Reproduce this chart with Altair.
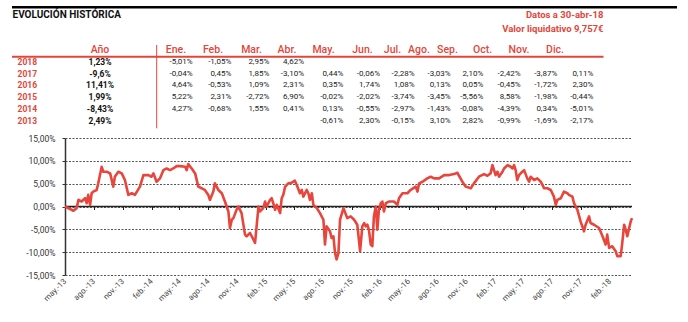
import altair as alt
import pandas as pd

# ---------------- data ----------------
DATES = [
    "2013-05-18", "2013-06-08", "2013-06-14", "2013-06-24", "2013-06-30", "2013-07-10", "2013-07-21",
    "2013-07-26", "2013-07-31", "2013-08-06", "2013-08-11", "2013-08-16", "2013-08-27", "2013-09-01",
    "2013-09-12", "2013-09-17", "2013-09-28", "2013-10-09", "2013-10-19", "2013-10-24", "2013-11-04",
    "2013-11-15", "2013-11-25", "2013-12-06", "2013-12-17", "2013-12-27",
    "2014-01-12", "2014-01-23", "2014-02-08", "2014-02-18", "2014-02-24", "2014-03-06", "2014-03-17",
    "2014-03-28", "2014-04-07", "2014-04-18", "2014-04-28", "2014-05-09", "2014-05-20", "2014-06-05",
    "2014-06-10", "2014-06-15", "2014-06-26", "2014-07-07", "2014-07-17", "2014-07-28", "2014-08-07",
    "2014-08-18", "2014-08-23", "2014-09-03", "2014-09-08", "2014-09-19", "2014-09-30", "2014-10-10",
    "2014-10-21", "2014-10-26", "2014-11-01", "2014-11-06", "2014-11-16", "2014-11-22", "2014-12-02",
    "2014-12-13", "2014-12-18", "2014-12-29",
    "2015-01-09", "2015-01-14", "2015-01-19", "2015-01-25", "2015-01-30", "2015-02-09", "2015-02-15",
    "2015-02-20", "2015-03-03", "2015-03-08", "2015-03-13", "2015-03-19", "2015-03-24", "2015-04-04",
    "2015-04-09", "2015-04-14", "2015-04-20", "2015-04-30", "2015-05-11", "2015-05-21", "2015-05-27",
    "2015-06-06", "2015-06-12", "2015-06-17", "2015-06-28", "2015-07-03", "2015-07-08", "2015-07-14",
    "2015-07-19", "2015-07-30", "2015-08-09", "2015-08-20", "2015-08-25", "2015-08-30", "2015-09-10",
    "2015-09-15", "2015-09-21", "2015-09-26", "2015-10-01", "2015-10-07", "2015-10-12", "2015-10-23",
    "2015-11-04", "2015-11-15", "2015-11-26", "2015-12-06", "2015-12-15", "2015-12-22", "2015-12-28",
    "2016-01-02", "2016-01-07", "2016-01-12", "2016-01-18", "2016-01-23", "2016-01-28", "2016-02-03",
    "2016-02-08", "2016-02-13", "2016-02-19", "2016-02-24", "2016-02-29", "2016-03-06", "2016-03-16",
    "2016-04-01", "2016-04-12", "2016-04-17", "2016-04-28", "2016-05-14", "2016-05-24", "2016-06-09",
    "2016-06-15", "2016-06-20", "2016-07-01", "2016-07-16", "2016-07-27", "2016-08-07", "2016-08-23",
    "2016-09-08", "2016-09-24", "2016-10-10", "2016-10-20", "2016-11-05", "2016-11-16", "2016-12-02",
    "2016-12-12", "2016-12-28",
    "2017-01-13", "2017-01-24", "2017-02-03", "2017-02-09", "2017-02-19", "2017-02-25", "2017-03-02",
    "2017-03-13", "2017-03-18", "2017-03-29", "2017-04-08", "2017-04-14", "2017-04-19", "2017-04-24",
    "2017-04-29", "2017-05-05", "2017-05-15", "2017-05-21", "2017-05-31", "2017-06-06", "2017-06-11",
    "2017-06-22", "2017-07-02", "2017-07-13", "2017-07-24", "2017-08-03", "2017-08-14", "2017-08-24",
    "2017-08-30", "2017-09-04", "2017-09-15", "2017-09-25", "2017-10-06", "2017-10-11", "2017-10-22",
    "2017-10-27", "2017-11-07", "2017-11-17", "2017-11-28", "2017-12-03", "2017-12-14", "2017-12-19",
    "2017-12-30",
    "2018-01-15", "2018-01-26", "2018-02-05", "2018-02-10", "2018-02-16", "2018-02-26", "2018-03-09",
    "2018-03-14", "2018-03-25", "2018-03-30", "2018-04-05", "2018-04-10", "2018-04-15", "2018-04-21",
    "2018-04-26", "2018-04-30",
]
VALUES = [
    0.00, -0.72, -0.94, -0.36, 1.45, 1.09, 1.81, 0.72, 2.54, 0.36, 2.90, 3.26, 3.62, 5.07,
    8.70, 7.61, 7.61, 7.25, 4.35, 6.52, 7.61, 7.25, 5.80, 2.54, 2.90, 2.54,
    4.35, 6.88, 6.88, 6.52, 7.25, 5.43, 6.16, 7.97, 8.33, 7.97, 8.33, 8.84, 8.84, 8.70,
    7.97, 9.28, 8.33, 7.25, 4.35, 3.99, 3.62, 2.54, 1.45, 3.26, 5.07, 3.62, 2.90, 1.09,
    -1.09, -4.71, -2.90, -2.54, -0.72, 0.00, -1.45, -6.16, -6.52, -5.80,
    -7.25, -7.97, -4.35, 0.00, -1.09, -0.36, 1.09, 0.00, 1.45, 1.81, 0.72, -0.72, 0.36, -1.45,
    1.81, 2.54, 4.35, 5.07, 5.22, 5.65, 4.71, 2.90, 3.62, 2.17, 3.62, 2.90, 1.45, 2.90,
    0.36, -0.36, -1.45, -2.90, -8.33, -4.35, -5.43, -6.88, -6.52, -10.14, -11.59, -10.14, -2.90, -0.36,
    -2.54, -2.17, -2.90, -3.99, -9.78, -4.35, -3.62,
    -4.35, -3.99, -5.07, -8.33, -8.70, -2.17, 0.00, -5.07, -0.72, 0.72, 1.09, -1.09, 0.72, 1.09,
    1.09, 0.36, 1.81, 2.90, 2.90, 3.62, 4.35, 3.26, 5.07, 5.43, 6.16, 6.52, 6.16, 6.16,
    6.88, 6.88, 7.10, 7.39, 5.43, 4.35, 3.99, 5.07, 6.52,
    7.10, 6.74, 7.25, 9.06, 6.88, 7.61, 6.52, 7.61, 8.33, 9.06, 8.70, 8.33, 9.06, 7.97,
    5.80, 6.88, 7.61, 7.97, 6.16, 5.43, 6.52, 5.80, 6.16, 5.43, 3.99, 3.99, 3.62, 2.17,
    0.36, 1.45, 1.81, 3.26, 2.90, 2.54, 2.17, 0.72, -0.72, -3.26, -5.43, -3.99, -2.17, -3.62,
    -3.99,
    -4.71, -6.52, -8.33, -6.16, -9.06, -8.70, -9.78, -10.87, -10.87, -7.97, -3.99, -5.07, -6.52, -4.71,
    -3.26, -2.54,
]

TITLE = "EVOLUCIÓN HISTÓRICA"
NOTE_1 = "Datos a 30-abr-18"
NOTE_2 = "Valor liquidativo 9,757€"

YEAR_HEADER = "Año"
MONTHS = ["Ene.", "Feb.", "Mar.", "Abr.", "May.", "Jun.", "Jul.", "Ago.", "Sep.", "Oct.", "Nov.", "Dic."]
YEARS = ["2018", "2017", "2016", "2015", "2014", "2013"]
ANNUAL = ["1,23%", "-9,6%", "11,41%", "1,99%", "-8,43%", "2,49%"]
M_2018 = ["-5,01%", "-1,05%", "2,95%", "4,62%", "", "", "", "", "", "", "", ""]
M_2017 = ["-0,04%", "0,45%", "1,85%", "-3,10%", "0,44%", "-0,06%", "-2,28%", "-3,03%", "2,10%", "-2,42%", "-3,87%", "0,11%"]
M_2016 = ["4,64%", "-0,53%", "1,09%", "2,31%", "0,35%", "1,74%", "1,08%", "0,13%", "0,05%", "-0,45%", "-1,72%", "2,30%"]
M_2015 = ["5,22%", "2,31%", "-2,72%", "6,90%", "-0,02%", "-2,02%", "-3,74%", "-3,45%", "-5,56%", "8,58%", "-1,98%", "-0,44%"]
M_2014 = ["4,27%", "-0,68%", "1,55%", "0,41%", "0,13%", "-0,55%", "-2,97%", "-1,43%", "-0,08%", "-4,39%", "0,34%", "-5,01%"]
M_2013 = ["", "", "", "", "-0,61%", "2,30%", "-0,15%", "3,10%", "2,82%", "-0,99%", "-1,69%", "-2,17%"]
MONTHLY = [M_2018, M_2017, M_2016, M_2015, M_2014, M_2013]

TICK_MONTHS = [(2013, 5), (2013, 8), (2013, 11), (2014, 2), (2014, 5), (2014, 8), (2014, 11),
               (2015, 2), (2015, 5), (2015, 8), (2015, 11), (2016, 2), (2016, 5), (2016, 8),
               (2016, 11), (2017, 2), (2017, 5), (2017, 8), (2017, 11), (2018, 2)]
Y_TICKS = [-15, -10, -5, 0, 5, 10, 15]

# ---------------- layout (page pixels) ----------------
L, T = 65, 138          # plot origin
W, H = 567, 137         # plot size
HDR_X = [176, 213, 251.5, 287, 323.5, 362.5, 392.5, 419, 447.5, 482.5, 519, 555]
VAL_X = [192.7, 231.3, 269.3, 304, 343.3, 380, 414.7, 450.7, 483.3, 520.7, 557.3, 593.3]
ROW_Y = (61.7, 120.7)
RED = "#e2463b"
LINE_RED = "#e8453c"
FONT = "Roboto"

# ---------------- line chart ----------------
line_df = pd.DataFrame({"date": DATES, "value": VALUES})
ticks = [alt.DateTime(year=y, month=m, date=18, utc=True) for y, m in TICK_MONTHS]
x_scale = alt.Scale(type="utc",
                    domain=[alt.DateTime(year=2013, month=5, date=18, utc=True),
                            alt.DateTime(year=2018, month=4, date=30, utc=True)])
y_scale = alt.Scale(domain=[-15, 15], nice=False)
month_expr = ("['ene','feb','mar','abr','may','jun','jul','ago','sep','oct','nov','dic']"
              "[utcmonth(datum.value)] + '.-' + utcFormat(datum.value, '%y')")
pct_expr = ("(datum.value < 0 ? '-' : '') + "
            "replace(format(abs(datum.value), '.2f'), '.', ',') + '%'")

line = alt.Chart(line_df).mark_line(color=LINE_RED, strokeWidth=2.6, strokeJoin="round").encode(
    x=alt.X("date:T", scale=x_scale, title=None,
            axis=alt.Axis(orient="bottom", values=ticks, labelExpr=month_expr, labelAngle=-45,
                          labelAlign="right", labelBaseline="middle", labelPadding=5, ticks=False,
                          domain=False, grid=False, labelFontSize=8, labelColor="#444",
                          labelOverlap=False, labelFlush=False, labelBound=False)),
    y=alt.Y("value:Q", scale=y_scale, title=None,
            axis=alt.Axis(orient="left", values=Y_TICKS, labelExpr=pct_expr, grid=True,
                          gridDash=[2, 1.5], gridColor="#555", gridWidth=1, domainColor="#333",
                          domainWidth=1.5, tickColor="#333", tickSize=3, labelPadding=7,
                          labelFontSize=8.5, labelColor="#333")),
)

zero = alt.Chart(line_df).mark_rule(color="#222", strokeWidth=1.4).encode(
    x=alt.X("min(date):T", title=None,
            axis=alt.Axis(orient="bottom", values=ticks, labels=False, ticks=True, tickSize=3,
                          tickColor="#222", domain=False, grid=False, offset=-H / 2)),
    x2=alt.X2("max(date)"),
    y=alt.YDatum(0, axis=None),
)

plot = alt.layer(zero, line).resolve_axis(x="independent", y="independent")

# ---------------- table ----------------
hdr_df = pd.DataFrame({"i": list(range(12)), "m": MONTHS})
cells = []
for r, row in enumerate(MONTHLY):
    for i, v in enumerate(row):
        if v:
            cells.append({"r": r, "i": i, "t": v})
cell_df = pd.DataFrame(cells)
year_df = pd.DataFrame({"r": list(range(6)), "y": YEARS, "a": ANNUAL})

row_y = alt.Y("r:Q", scale=alt.Scale(domain=[0, 5], range=[ROW_Y[0] - T, ROW_Y[1] - T], nice=False),
              axis=None)

headers = alt.Chart(hdr_df).mark_text(align="center", baseline="middle", fontSize=10.5,
                                      fontWeight=500, color=RED, font=FONT).encode(
    x=alt.X("i:Q", scale=alt.Scale(domain=list(range(12)), range=[v - L for v in HDR_X], nice=False),
            axis=None),
    y=alt.value(50 - T),
    text="m:N",
)
ano = alt.Chart(pd.DataFrame({"t": [YEAR_HEADER]})).mark_text(
    align="center", baseline="middle", fontSize=10.5, fontWeight=500, color=RED, font=FONT).encode(
    x=alt.value(100 - L), y=alt.value(50 - T), text="t:N")

values = alt.Chart(cell_df).mark_text(align="right", baseline="middle", fontSize=8,
                                      color="#222", font=FONT).encode(
    x=alt.X("i:Q", scale=alt.Scale(domain=list(range(12)), range=[v - L for v in VAL_X], nice=False),
            axis=None),
    y=row_y,
    text="t:N",
)
year_lbl = alt.Chart(year_df).mark_text(align="left", baseline="middle", fontSize=8.5,
                                        fontWeight="bold", color=RED, font=FONT).encode(
    x=alt.value(17.5 - L), y=row_y, text="y:N")
annual = alt.Chart(year_df).mark_text(align="center", baseline="middle", fontSize=8.5,
                                      fontWeight="bold", color="#111", font=FONT).encode(
    x=alt.value(100 - L), y=row_y, text="a:N")

title = alt.Chart(pd.DataFrame({"t": [TITLE]})).mark_text(
    align="left", baseline="middle", fontSize=10, fontWeight="bold", color="#111", font=FONT).encode(
    x=alt.value(12.5 - L), y=alt.value(15 - T), text="t:N")
note1 = alt.Chart(pd.DataFrame({"t": [NOTE_1]})).mark_text(
    align="right", baseline="middle", fontSize=9.5, fontWeight="bold", color=RED, font=FONT).encode(
    x=alt.value(603.5 - L), y=alt.value(15.3 - T), text="t:N")
note2 = alt.Chart(pd.DataFrame({"t": [NOTE_2]})).mark_text(
    align="right", baseline="middle", fontSize=9.5, fontWeight="bold", color=RED, font=FONT).encode(
    x=alt.value(603.5 - L), y=alt.value(29.3 - T), text="t:N")

top_rule = alt.Chart().mark_rule(color="#000", strokeWidth=2.5).encode(
    x=alt.value(12 - L), x2=alt.value(677 - L), y=alt.value(7.3 - T))
under_rule = alt.Chart().mark_rule(color=RED, strokeWidth=2).encode(
    x=alt.value(12 - L), x2=alt.value(603.5 - L), y=alt.value(56.7 - T))
v_rule = alt.Chart().mark_rule(color=RED, strokeWidth=1).encode(
    x=alt.value(156.7 - L), y=alt.value(45 - T), y2=alt.value(128.3 - T))

chart = alt.layer(
    plot, top_rule, under_rule, v_rule, title, note1, note2,
    headers, ano, values, year_lbl, annual,
).resolve_scale(x="independent", y="independent").properties(
    width=W, height=H,
    padding={"left": L, "top": T, "right": 688 - L - W, "bottom": 322 - T - H},
    autosize=alt.AutoSizeParams(type="none"),
    background="white",
).configure(font=FONT).configure_view(stroke=None)

chart.save("out.html", embed_options={"renderer": "svg", "actions": False})
